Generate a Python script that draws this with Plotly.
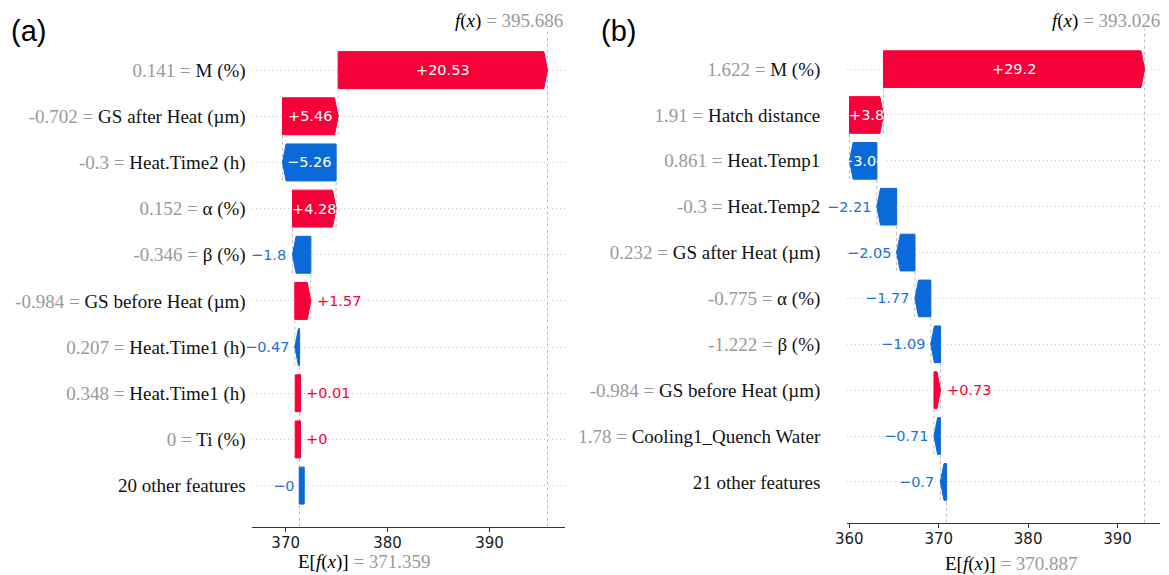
import math
import plotly.graph_objects as go

# ---------------- data ----------------
# panel (a)
a_features = ["M (%)", "GS after Heat (µm)", "Heat.Time2 (h)", "α (%)", "β (%)",
              "GS before Heat (µm)", "Heat.Time1 (h)", "Heat.Time1 (h)", "Ti (%)",
              "20 other features"]
a_feature_values = ["0.141", "-0.702", "-0.3", "0.152", "-0.346", "-0.984",
                    "0.207", "0.348", "0", ""]
a_shap = [20.53, 5.46, -5.26, 4.28, -1.8, 1.57, -0.47, 0.01, 0.0, -0.0]
a_base = 371.359
a_fx = 395.686
a_xticks = [370, 380, 390]

# panel (b)
b_features = ["M (%)", "Hatch distance", "Heat.Temp1", "Heat.Temp2",
              "GS after Heat (µm)", "α (%)", "β (%)", "GS before Heat (µm)",
              "Cooling1_Quench Water", "21 other features"]
b_feature_values = ["1.622", "1.91", "0.861", "-0.3", "0.232", "-0.775",
                    "-1.222", "-0.984", "1.78", ""]
b_shap = [29.2, 3.8, -3.06, -2.21, -2.05, -1.77, -1.09, 0.73, -0.71, -0.7]
b_base = 370.887
b_fx = 393.026
b_xticks = [360, 370, 380, 390]

# ---------------- style ----------------
W, H = 1169, 575
RED = "#f7003a"
BLUE = "#0a6ad9"
BLUE_TXT = "#1a72e0"
GRAY_TXT = "#999999"
SERIF = "Liberation Serif"
SANS = "DejaVu Sans"

panels = [
    dict(feat=a_features, fval=a_feature_values, shap=a_shap, base=a_base, fx=a_fx,
         xticks=a_xticks, xdom=[251.7 / W, 565 / W], ydom=[1 - 526.7 / H, 1 - 29 / H],
         xrange=[366.67, 397.4], standoff=5, letter="(a)", letter_x=9 / W, xa="x", ya="y",
         ey=561.5),
    dict(feat=b_features, fval=b_feature_values, shap=b_shap, base=b_base, fx=b_fx,
         xticks=b_xticks, xdom=[847.3 / W, 1160 / W], ydom=[1 - 522.7 / H, 1 - 28.3 / H],
         xrange=[359.78, 394.75], standoff=26, letter="(b)", letter_x=599 / W, xa="x2", ya="y2",
         ey=563.5),
]
YR = [-0.89, 9.89]
HALF = 0.4


def fmt(v):
    s = "%+0.2f" % v
    s = s.rstrip("0").rstrip(".")
    return s.replace("-", "−")


fig = go.Figure()
shapes, annotations = [], []
layout_axes = {}

for k, p in enumerate(panels):
    n = len(p["feat"])
    px_per_unit = (p["xdom"][1] - p["xdom"][0]) * W / (p["xrange"][1] - p["xrange"][0])
    hl_max = 3.6 / px_per_unit
    xa, ya = p["xa"], p["ya"]

    # cumulative starts from bottom row (base) upwards
    starts = [0.0] * n
    loc = p["base"]
    for i in range(n - 1, -1, -1):
        starts[i] = loc
        loc += p["shap"][i]

    polys = {RED: ([], []), BLUE: ([], [])}
    for i in range(n):
        v = p["shap"][i]
        y = n - 1 - i
        s = starts[i]
        e = s + v
        pos = math.copysign(1, v) > 0
        col = RED if pos else BLUE
        xs, ys = polys[col]
        w = abs(v)
        if w < 0.1:
            if pos:
                x0, x1 = s - 4.3 / px_per_unit, s + 1.0 / px_per_unit
            else:
                x0, x1 = s - 0.3 / px_per_unit, s + 4.7 / px_per_unit
            xs += [x0, x1, x1, x0, x0, None]
            ys += [y - HALF, y - HALF, y + HALF, y + HALF, y - HALF, None]
        else:
            hl = min(w, hl_max)
            if pos:
                xs += [s, e - hl, e, e - hl, s, s, None]
            else:
                xs += [s, e + hl, e, e + hl, s, s, None]
            ys += [y - HALF, y - HALF, y, y + HALF, y + HALF, y - HALF, None]

        # connecting dotted line at bar start
        shapes.append(dict(type="line", xref=xa, yref=ya, x0=s, x1=s,
                           y0=max(y - 1 - 0.4, YR[0]), y1=y + 0.4,
                           line=dict(color="#bbbbbb", width=1, dash="dot"), layer="below"))

        # value label
        lab = fmt(v)
        if w >= 2.5:
            annotations.append(dict(x=(s + e) / 2, y=y, xref=xa, yref=ya, text=lab,
                                    showarrow=False, xanchor="center", yanchor="middle",
                                    font=dict(family=SANS, size=14.5, color="white")))
        else:
            annotations.append(dict(x=e, y=y, xref=xa, yref=ya, text=lab, showarrow=False,
                                    xanchor="left" if pos else "right", yanchor="middle",
                                    xshift=4 if pos else -4,
                                    font=dict(family=SANS, size=14.5,
                                              color=RED if pos else BLUE_TXT)))

    for col, (xs, ys) in polys.items():
        fig.add_trace(go.Scatter(x=xs, y=ys, xaxis=xa, yaxis=ya, mode="lines",
                                 fill="toself", fillcolor=col,
                                 line=dict(color=col, width=1), hoverinfo="skip",
                                 showlegend=False))

    # f(x) vertical line
    shapes.append(dict(type="line", xref=xa, yref=ya, x0=p["fx"], x1=p["fx"],
                       y0=YR[0], y1=YR[1], line=dict(color="#bbbbbb", width=1, dash="dot"),
                       layer="below"))

    # f(x) and E[f(x)] labels
    annotations.append(dict(x=p["fx"], y=1 - 20.7 / H, xref=xa, yref="paper",
                            text="<i>f</i>(<i>x</i>)<span style='color:%s'> = %.3f</span>" % (GRAY_TXT, p["fx"]),
                            showarrow=False, xanchor="right", yanchor="middle", xshift=17,
                            font=dict(family=SERIF, size=19, color="black")))
    annotations.append(dict(x=p["base"], y=1 - p["ey"] / H, xref=xa, yref="paper",
                            text="E[<i>f</i>(<i>x</i>)]<span style='color:%s'> = %.3f</span>" % (GRAY_TXT, p["base"]),
                            showarrow=False, xanchor="left", yanchor="middle", xshift=-3.5,
                            font=dict(family=SERIF, size=19, color="black")))
    # panel letter
    annotations.append(dict(x=p["letter_x"], y=1 - 31 / H, xref="paper", yref="paper",
                            text=p["letter"], showarrow=False, xanchor="left", yanchor="middle",
                            font=dict(family="Liberation Sans", size=29, color="black")))

    ticktext = []
    for i in range(n - 1, -1, -1):
        if p["fval"][i]:
            ticktext.append("<span style='color:%s'>%s = </span>%s" % (GRAY_TXT, p["fval"][i], p["feat"][i]))
        else:
            ticktext.append(p["feat"][i])

    xkey = "xaxis" if xa == "x" else "xaxis2"
    ykey = "yaxis" if ya == "y" else "yaxis2"
    layout_axes[xkey] = dict(domain=p["xdom"], range=p["xrange"], anchor=ya,
                             tickvals=p["xticks"], showgrid=False, zeroline=False,
                             showline=True, linecolor="#333333", linewidth=1.2,
                             ticks="outside", ticklen=4, tickcolor="#333333", tickwidth=1,
                             ticklabelstandoff=-2,
                             tickfont=dict(family=SANS, size=15, color="#1a1a1a"),
                             automargin=False, fixedrange=True)
    layout_axes[ykey] = dict(domain=p["ydom"], range=YR, anchor=xa,
                             tickvals=list(range(n)), ticktext=ticktext,
                             showgrid=True, gridcolor="#cccccc", gridwidth=1, griddash="1px,3px",
                             zeroline=False, showline=False, ticks="",
                             ticklabelstandoff=p["standoff"],
                             tickfont=dict(family=SERIF, size=19, color="#111111"),
                             automargin=False, fixedrange=True)

fig.update_layout(width=W, height=H, margin=dict(l=0, r=0, t=0, b=0, autoexpand=False),
                  paper_bgcolor="white", plot_bgcolor="white", showlegend=False,
                  shapes=shapes, annotations=annotations, **layout_axes)

fig.write_html("out.html")
